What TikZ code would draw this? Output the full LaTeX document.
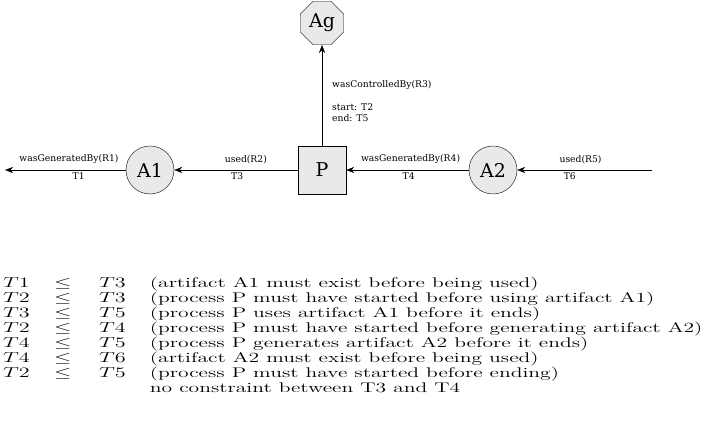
\documentclass[tikz,border=0pt]{standalone}
\usepackage{amsmath}
\usepackage{amssymb}
\usepackage{fontspec}
\usetikzlibrary{arrows.meta,shapes.geometric}
\newfontfamily\graphfont{DejaVu Serif}
\tikzstyle{artifact} = [draw, thin, fill=gray!17, circle, minimum size=48pt, inner sep=0pt, font=\graphfont\fontsize{19}{19}\selectfont]
\tikzstyle{process} = [draw, thin, fill=gray!17, rectangle, minimum size=48pt, inner sep=0pt, font=\graphfont\fontsize{19}{19}\selectfont]
\tikzstyle{agent} = [draw, thin, fill=gray!17, regular polygon, regular polygon sides=8, minimum size=47pt, inner sep=0pt, font=\graphfont\fontsize{19}{19}\selectfont]
\tikzstyle{dep} = [-{Stealth[length=8pt,width=6pt,inset=2.5pt]}, thin]
\tikzstyle{rel} = [font=\graphfont\fontsize{9.2}{10.5}\selectfont, inner sep=1pt]

\begin{document}
\begin{tikzpicture}[x=1pt,y=1pt]
	\useasboundingbox (0,0) rectangle (702,441);
	\node[agent] (ag) at (322,418) {Ag};
	\node[process] (p) at (322,271) {P};
	\node[artifact] (a1) at (150,271) {A1};
	\node[artifact] (a2) at (493,271) {A2};
	\coordinate (out) at (5,271);
	\coordinate (in) at (652,271);
	\draw[dep] (a1) -- node[rel, above=5pt, pos=0.47] (r1) {wasGeneratedBy(R1)} node[rel, below=1pt, pos=0.39] (t1) {T1} (out);
	\draw[dep] (p) -- node[rel, above=5pt, pos=0.42] (r2) {used(R2)} node[rel, below=1pt, pos=0.49] (t3) {T3} (a1);
	\draw[dep] (a2) -- node[rel, above=5pt, pos=0.475] (r4) {wasGeneratedBy(R4)} node[rel, below=1pt, pos=0.49] (t4) {T4} (p);
	\draw[dep] (in) -- node[rel, above=5pt, pos=0.53] (r5) {used(R5)} node[rel, below=1pt, pos=0.61] (t6) {T6} (a2);
	\draw[dep] (p) -- node[rel, right=9pt, pos=0.6] (r3) {wasControlledBy(R3)} node[rel, right=9pt, pos=0.33, align=left] (t25) {start: T2\\end: T5} (ag);
	\node[anchor=base west, inner sep=0pt, font=\fontsize{14}{15}\selectfont] (order) at (3,153) {
		\scalebox{1.543}[1]{\setlength{\tabcolsep}{0pt}%
		\begin{tabular}[t]{p{33pt}p{29.1pt}p{33pt}l}
			$T1$ & $\leq$ & $T3$ & (artifact A1 must exist before being used)\\
			$T2$ & $\leq$ & $T3$ & (process P must have started before using artifact A1)\\
			$T3$ & $\leq$ & $T5$ & (process P uses artifact A1 before it ends)\\
			$T2$ & $\leq$ & $T4$ & (process P must have started before generating artifact A2)\\
			$T4$ & $\leq$ & $T5$ & (process P generates artifact A2 before it ends)\\
			$T4$ & $\leq$ & $T6$ & (artifact A2 must exist before being used)\\
			$T2$ & $\leq$ & $T5$ & (process P must have started before ending)\\
			 & & & no constraint between T3 and T4
		\end{tabular}}};
\end{tikzpicture}
\end{document}
